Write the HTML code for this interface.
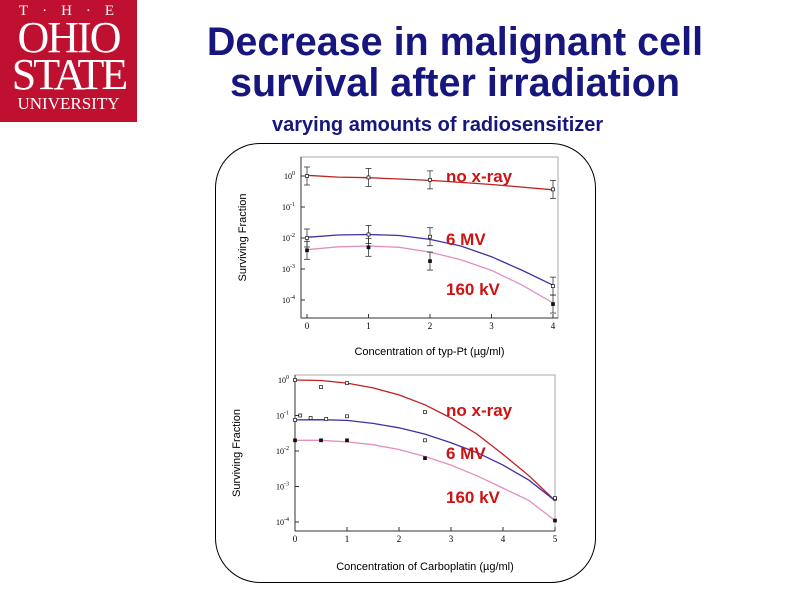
<!DOCTYPE html>
<html><head><meta charset="utf-8"><style>
body{margin:0;width:794px;height:595px;background:#fff;position:relative;overflow:hidden;font-family:"Liberation Sans",sans-serif}
.t{position:absolute;text-align:center;color:#16167e}
</style></head><body>
<div style="position:absolute;left:0;top:0;width:137px;height:122px;background:#c01030;color:#fff;font-family:'Liberation Serif',serif;text-align:center">
<div style="font-size:15px;letter-spacing:14px;margin-top:3px;padding-left:10px">T·H·E</div>
<div style="font-size:44px;line-height:36px;letter-spacing:-2px">OHIO</div>
<div style="font-size:44px;line-height:38px;letter-spacing:-3px">STATE</div>
<div style="font-size:17px;line-height:20px">UNIVERSITY</div>
</div>
<div class="t" style="left:105px;width:700px;top:22px;font-size:39.5px;line-height:41px;font-weight:bold">Decrease in malignant cell<br>survival after irradiation</div>
<div style="position:absolute;left:272px;top:114px;font-size:20px;font-weight:bold;color:#16167e">varying amounts of radiosensitizer</div>
<div style="position:absolute;left:215px;top:143px;width:379px;height:438px;border:1px solid #000;border-radius:45px"></div>
<svg id="s" width="794" height="595" style="position:absolute;left:0;top:0"></svg>
<script>
const topX=[0,1,2,4];
const topNoX=[1.0,0.9,0.75,0.37];
const top6=[0.01,0.013,0.011,0.00028];
const top160=[0.004,0.005,0.0018,0.000074];
const topCurveX=[0,0.5,1,1.5,2,2.5,3,3.5,4];
const topCurveNoX=[1.05,0.92,0.88,0.8,0.72,0.62,0.53,0.44,0.36];
const topCurve6=[0.0105,0.0125,0.013,0.012,0.009,0.0055,0.0025,0.0009,0.0003];
const topCurve160=[0.0042,0.0052,0.0055,0.005,0.0035,0.002,0.0009,0.0003,0.00008];
const topXTicks=[0,1,2,3,4];
const botX=[0,0.5,1,2.5,5];
const botNoX=[1.0,0.63,0.82,0.125,0.00045];
const bot6X=[0,0.1,0.3,0.6,1,2.5,5];
const bot6=[0.075,0.1,0.085,0.08,0.095,0.02,0.00047];
const bot160=[0.02,0.02,0.02,0.0063,0.00011];
const botCurveX=[0,0.5,1,1.5,2,2.5,3,3.5,4,4.5,5];
const botCurveNoX=[1.0,0.97,0.82,0.6,0.38,0.2,0.085,0.03,0.008,0.002,0.0004];
const botCurve6=[0.075,0.076,0.073,0.06,0.045,0.03,0.017,0.009,0.004,0.0015,0.0004];
const botCurve160=[0.02,0.02,0.018,0.015,0.011,0.007,0.004,0.002,0.0009,0.0004,0.00011];
const botXTicks=[0,1,2,3,4,5];
const yExp=[0,-1,-2,-3,-4];
const svg=document.getElementById('s');const NS='http://www.w3.org/2000/svg';
function mk(t,a,p){const e=document.createElementNS(NS,t);for(const k in a)e.setAttribute(k,a[k]);(p||svg).appendChild(e);return e;}
function chart(c){
 const g=mk('g',{});
 
 
 const X=v=>c.x0+v*c.px;
 const Yl=v=>c.y0+(-Math.log10(v))*c.dec;
 const box=mk('rect',{x:c.bx,y:c.by,width:c.bw,height:c.bh,fill:'none',stroke:'#aaa','stroke-width':1},g);
 
 mk('line',{x1:c.bx,y1:c.by,x2:c.bx,y2:c.by+c.bh,stroke:'#333'},g);
 mk('line',{x1:c.bx,y1:c.by+c.bh,x2:c.bx+c.bw,y2:c.by+c.bh,stroke:'#333'},g);
 yExp.forEach(e=>{const y=c.y0-e*c.dec;
  mk('line',{x1:c.bx,y1:y,x2:c.bx+4,y2:y,stroke:'#333'},g);
  const t=mk('text',{x:c.bx-6,y:y+3,'font-size':8,'text-anchor':'end','font-family':'Liberation Serif'},g);
  t.textContent='10';const s=mk('tspan',{dy:-4,'font-size':6},t);s.textContent=String(e);
  });
 c.xt.forEach(v=>{const x=X(v);mk('line',{x1:x,y1:c.by+c.bh,x2:x,y2:c.by+c.bh-4,stroke:'#333'},g);
  const t=mk('text',{x:x,y:c.by+c.bh+11,'font-size':9,'text-anchor':'middle','font-family':'Liberation Serif'},g);t.textContent=v;
  });
 c.series.forEach(s=>{
  const d=c.cx.map((v,i)=>(i?'L':'M')+X(v).toFixed(1)+','+Yl(s.curve[i]).toFixed(1)).join('');
  const p=mk('path',{d:d,fill:'none',stroke:s.col,'stroke-width':1.3},g);
  
  s.x.forEach((v,i)=>{const x=X(v),y=Yl(s.pts[i]);
   if(c.err){mk('line',{x1:x,y1:y-9,x2:x,y2:y+9,stroke:'#333','stroke-width':0.8},g);
    mk('line',{x1:x-3,y1:y-9,x2:x+3,y2:y-9,stroke:'#333','stroke-width':0.8},g);
    mk('line',{x1:x-3,y1:y+9,x2:x+3,y2:y+9,stroke:'#333','stroke-width':0.8},g);}
   const m=mk('rect',{x:x-1.5,y:y-1.5,width:3,height:3,fill:s.fill,stroke:'#111','stroke-width':0.7},g);
   });
 });
 const yt=mk('text',{transform:`translate(${c.bx-55},${c.by+c.bh/2}) rotate(-90)`,'font-size':11,'text-anchor':'middle'},g);
 yt.textContent='Surviving Fraction';
 const xt=mk('text',{x:c.bx+c.bw/2,y:c.xty,'font-size':11,'text-anchor':'middle'},g);
 xt.textContent=c.xtitle;
 c.labels.forEach(l=>{const t=mk('text',{x:446,y:l[1],'font-size':17,'font-weight':'bold',fill:'#cc1414'},g);t.textContent=l[0];
  });
}
chart({name:'chart-typ-pt',bx:301,by:157,bw:257,bh:161,x0:307,px:61.5,y0:176,dec:31,xt:topXTicks,err:true,cx:topCurveX,xty:355,
 xtitle:'Concentration of typ-Pt (µg/ml)',labels:[['no x-ray',182],['6 MV',245],['160 kV',295]],
 series:[{name:'no-xray',col:'#c02020',x:topX,pts:topNoX,curve:topCurveNoX,fill:'#fff'},
 {name:'6mv',col:'#4030a0',x:topX,pts:top6,curve:topCurve6,fill:'#fff'},
 {name:'160kv',col:'#e090c0',x:topX,pts:top160,curve:topCurve160,fill:'#111'}]});
chart({name:'chart-carboplatin',bx:295,by:375,bw:260,bh:156,x0:295,px:52,y0:380,dec:35.5,xt:botXTicks,err:false,cx:botCurveX,xty:570,
 xtitle:'Concentration of Carboplatin (µg/ml)',labels:[['no x-ray',416],['6 MV',459],['160 kV',503]],
 series:[{name:'no-xray',col:'#c02020',x:botX,pts:botNoX,curve:botCurveNoX,fill:'#fff'},
 {name:'6mv',col:'#4030a0',x:bot6X,pts:bot6,curve:botCurve6,fill:'#fff'},
 {name:'160kv',col:'#e090c0',x:botX,pts:bot160,curve:botCurve160,fill:'#111'}]});
</script>
</body></html>
